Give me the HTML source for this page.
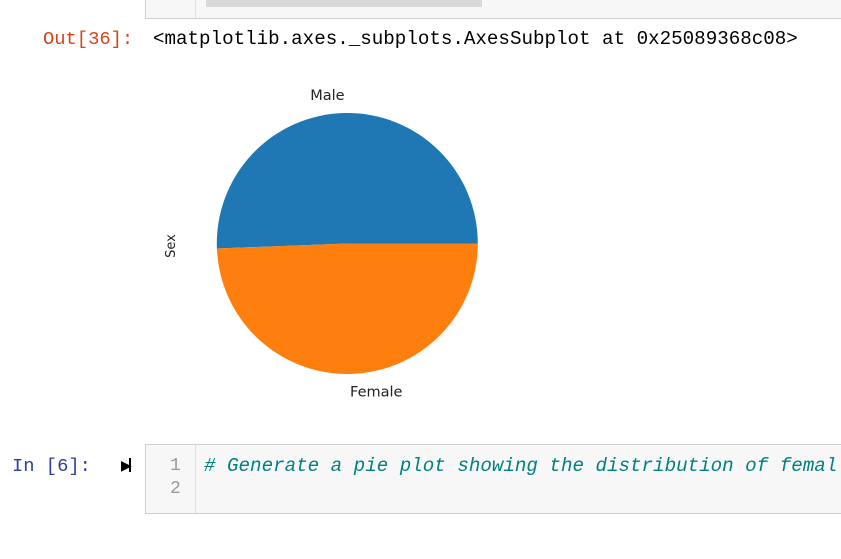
<!DOCTYPE html>
<html><head><meta charset="utf-8"><style>
body{margin:0;width:841px;height:559px;background:#fff;position:relative;overflow:hidden;font-family:"Liberation Mono","DejaVu Sans Mono",monospace;}
.abs{position:absolute;}
</style></head><body>
<div class="abs" style="left:145px;top:-2px;width:695px;height:19px;background:#f7f7f7;border:1px solid #cfcfcf;border-right:none;overflow:hidden;">
  <div class="abs" style="left:49px;top:0;width:1px;height:19px;background:#ddd;"></div>
  <div class="abs" style="left:60px;top:-2px;width:276px;height:10px;background:#d9d9d9;"></div>
</div>
<div class="abs" style="left:43px;top:28px;font-size:18.8px;color:#d84315;">Out[36]:</div>
<div class="abs" style="left:153px;top:28px;font-size:19.2px;color:#000;white-space:nowrap;">&lt;matplotlib.axes._subplots.AxesSubplot at 0x25089368c08&gt;</div>
<svg class="abs" style="left:0;top:0" width="841" height="440" id="pie"></svg>
<div class="abs" style="left:12px;top:455px;font-size:18.8px;color:#303f9f;">In [6]:</div>
<div class="abs" style="left:121px;top:458px;font-size:14px;color:#000;font-family:'DejaVu Sans',sans-serif;">&#9654;<span style="display:inline-block;width:2px;height:14px;background:#000;vertical-align:-2px;margin-left:-3px"></span></div>
<div class="abs" style="left:145px;top:444px;width:696px;height:68px;background:#f7f7f7;border:1px solid #cfcfcf;border-right:none;overflow:hidden;">
  <div class="abs" style="left:49px;top:0;width:1px;height:68px;background:#ddd;"></div>
  <div class="abs" style="left:24px;top:10px;font-size:18px;color:#999;line-height:23px;">1<br>2</div>
  <div class="abs" style="left:58px;top:10px;font-size:19.2px;color:#008080;font-style:italic;line-height:23px;white-space:nowrap;"># Generate a pie plot showing the distribution of femal</div>
</div>
<script>
const labels=["Male","Female"];
const values=[958,935];
const colors=["#1f77b4","#ff7f0e"];
const cx=347.3,cy=243.5,r=130.5;
const svg=document.getElementById('pie');
const ns="http://www.w3.org/2000/svg";
const total=values.reduce((a,b)=>a+b,0);
let a0=0;
values.forEach((v,i)=>{
  const a1=a0+v/total*2*Math.PI;
  const x0=cx+r*Math.cos(a0),y0=cy-r*Math.sin(a0);
  const x1=cx+r*Math.cos(a1),y1=cy-r*Math.sin(a1);
  const large=(a1-a0)>Math.PI?1:0;
  const p=document.createElementNS(ns,'path');
  p.setAttribute('d',`M${cx},${cy} L${x0},${y0} A${r},${r} 0 ${large} 0 ${x1},${y1} Z`);
  p.setAttribute('fill',colors[i]);
  
  
  svg.appendChild(p);
  const am=(a0+a1)/2;
  const t=document.createElementNS(ns,'text');
  const lx=cx+1.1*r*Math.cos(am),ly=cy-1.1*r*Math.sin(am);
  t.setAttribute('x',lx);t.setAttribute('y',ly);
  t.setAttribute('text-anchor',Math.cos(am)>=0?'start':'end');
  t.setAttribute('dominant-baseline',Math.sin(am)>0?'auto':'hanging');
  t.setAttribute('font-family','"DejaVu Sans","Liberation Sans",sans-serif');
  t.setAttribute('font-size','14.5');t.setAttribute('fill','#222');
  t.textContent=labels[i];
  
  
  svg.appendChild(t);
  a0=a1;
});
const yl=document.createElementNS(ns,'text');
yl.setAttribute('x',0);yl.setAttribute('y',0);
yl.setAttribute('transform','translate(175,246) rotate(-90)');
yl.setAttribute('text-anchor','middle');
yl.setAttribute('font-family','"DejaVu Sans","Liberation Sans",sans-serif');
yl.setAttribute('font-size','13');yl.setAttribute('fill','#222');
yl.textContent='Sex';


svg.appendChild(yl);
</script>
</body></html>
